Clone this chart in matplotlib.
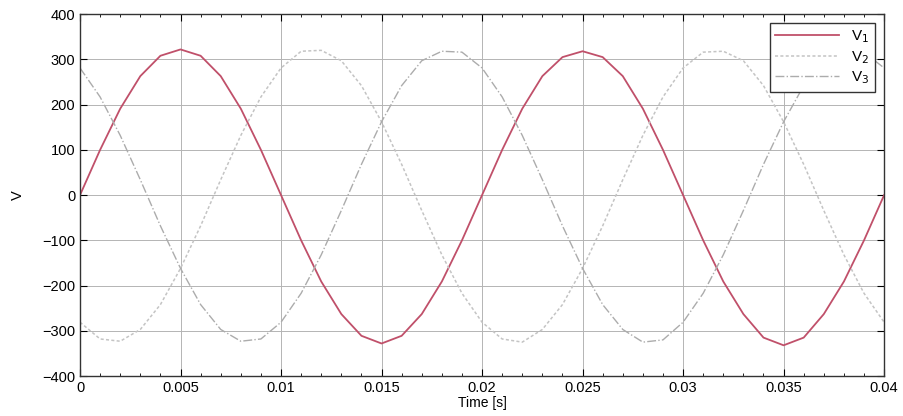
import matplotlib.pyplot as plt
from matplotlib.ticker import FormatStrFormatter, MultipleLocator

plt.rcParams['font.family'] = ['Liberation Sans', 'DejaVu Sans']

# sample times (1 ms steps)
t = [k * 0.001 for k in range(41)]

# phase voltages
v1 = [0, 100, 191, 263, 308, 322, 308, 263, 191, 100,
      0, -100, -191, -263, -311, -328, -311, -263, -191, -100,
      0, 100, 191, 263, 305, 318, 305, 263, 191, 100,
      0, -100, -191, -263, -315, -332, -315, -263, -191, -100, 0]
v2 = [-281, -318, -323, -297, -242, -162, -68, 34, 132, 217,
      281, 318, 320, 297, 242, 162, 68, -34, -132, -217,
      -281, -318, -325, -297, -242, -162, -68, 34, 132, 217,
      281, 316, 318, 297, 242, 162, 68, -34, -132, -217, -281]
v3 = [281, 217, 132, 34, -68, -162, -242, -297, -323, -318,
      -281, -217, -132, -34, 68, 162, 242, 297, 318, 316,
      281, 217, 132, 34, -68, -162, -242, -297, -325, -320,
      -281, -217, -132, -34, 68, 162, 242, 297, 318, 316, 281]

fig = plt.figure(figsize=(9.04, 4.16), dpi=100)
ax = fig.add_axes([0.0885, 0.096, 0.8895, 0.870])

ax.plot(t, v1, color='#c0506a', lw=1.3, label='V$_1$')
ax.plot(t, v2, color='#c4c4c4', lw=1.1, ls=(0, (2, 1.5)), label='V$_2$')
ax.plot(t, v3, color='#acacac', lw=1.0, ls='-.', label='V$_3$')

ax.set_xlim(0, 0.04)
ax.set_ylim(-400, 400)
ax.xaxis.set_major_locator(MultipleLocator(0.005))
ax.xaxis.set_minor_locator(MultipleLocator(0.001))
ax.yaxis.set_major_locator(MultipleLocator(100))
ax.xaxis.set_major_formatter(FormatStrFormatter('%g'))
ax.tick_params(which='both', direction='in', top=True, right=True, labelsize=10.5)
ax.tick_params(which='major', length=5)
ax.tick_params(which='minor', length=2)
ax.grid(True, which='major', color='#b4b4b4', lw=0.7)
for s in ax.spines.values():
    s.set_linewidth(1.0)
    s.set_color('#333333')

ax.set_xlabel('Time [s]', fontsize=10, labelpad=1)
ax.set_ylabel('V', fontsize=10.5, labelpad=12)

leg = ax.legend(loc='upper right', fontsize=11, fancybox=False, framealpha=1,
                edgecolor='#333333', handlelength=4.2, borderaxespad=0.6,
                labelspacing=0.25, borderpad=0.35)
leg.get_frame().set_linewidth(1.0)

fig.savefig('out.png', dpi=100)
